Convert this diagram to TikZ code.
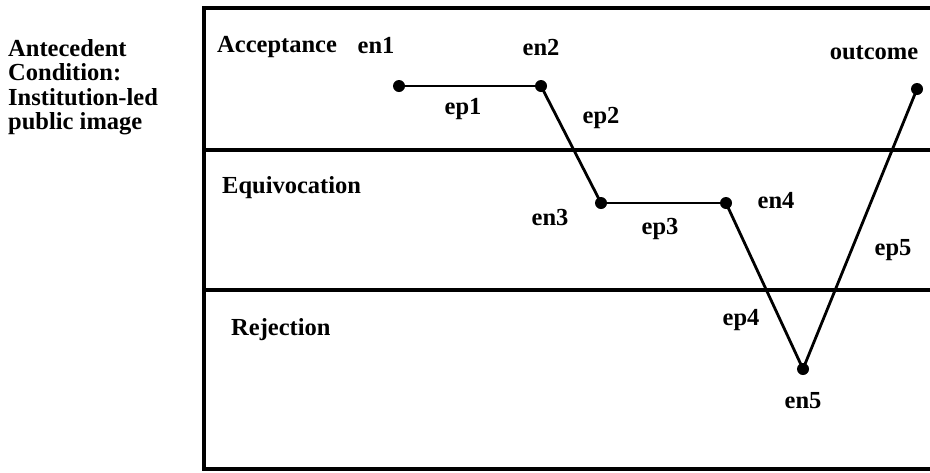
\documentclass[tikz,border=0pt]{standalone}
\usepackage{fontspec}
\setmainfont{Liberation Serif}
\tikzset{
  lbl/.style={font=\bfseries\fontsize{24.5}{24.5}\selectfont, inner sep=0pt},
  dot/.style={circle, fill=black, draw=none, minimum size=12pt, inner sep=0pt},
  conn/.style={line width=2.8pt},
  frame/.style={line width=4pt},
  divider/.style={line width=3.2pt}
}
\begin{document}
\begin{tikzpicture}[x=1pt,y=-1pt]
\useasboundingbox (0,0) rectangle (930,472);
% frame
\draw[frame] (930,8) -- (204,8) -- (204,469) -- (930,469);
\draw[divider] (204,150) -- (930,150);
\draw[divider] (204,290) -- (930,290);
% left text
\node[lbl, align=left, anchor=west] (ante) at (8,87) {Antecedent\\Condition:\\Institution-led\\public image};
% zone labels
\node[lbl, anchor=west] (acc) at (217,47) {Acceptance};
\node[lbl, anchor=west] (equ) at (222,188) {Equivocation};
\node[lbl, anchor=west] (rej) at (231,330) {Rejection};
% dots
\node[dot] (en1) at (399,86) {};
\node[dot] (en2) at (541,86) {};
\node[dot] (en3) at (601,203) {};
\node[dot] (en4) at (726,203) {};
\node[dot] (en5) at (803,369) {};
\node[dot] (outc) at (917,89) {};
% connectors
\draw[conn] (en1.center) -- (en2.center);
\draw[conn] (en2.center) -- (en3.center);
\draw[conn] (en3.center) -- (en4.center);
\draw[conn] (en4.center) -- (en5.center);
\draw[conn] (en5.center) -- (outc.center);
% node labels
\node[lbl] (len1) at (376,46) {en1};
\node[lbl] (len2) at (541,47) {en2};
\node[lbl] (lout) at (874,53) {outcome};
\node[lbl] (len3) at (550,218) {en3};
\node[lbl] (len4) at (776,201) {en4};
\node[lbl] (len5) at (803,401) {en5};
% edge labels
\node[lbl] (lep1) at (463,109) {ep1};
\node[lbl] (lep2) at (601,118) {ep2};
\node[lbl] (lep3) at (660,229) {ep3};
\node[lbl] (lep4) at (741,320) {ep4};
\node[lbl] (lep5) at (893,250) {ep5};
\end{tikzpicture}
\end{document}
